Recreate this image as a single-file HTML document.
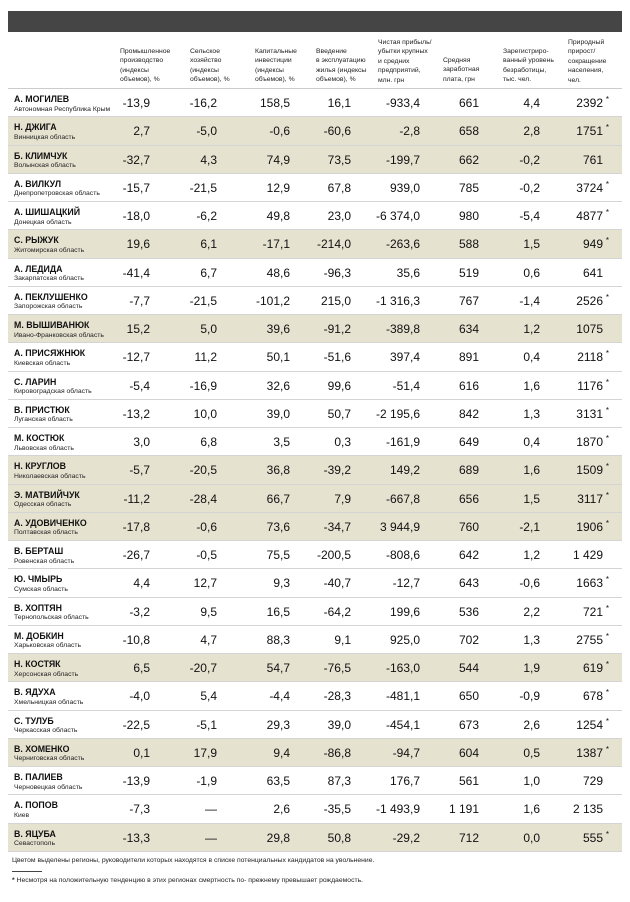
<!DOCTYPE html>
<html><head><meta charset="utf-8"><style>
*{margin:0;padding:0;box-sizing:border-box}
body{width:630px;height:902px;background:#fff;font-family:"Liberation Sans",sans-serif;position:relative;overflow:hidden;color:#111}
.bar{position:absolute;left:8px;top:11px;width:614px;height:21px;background:#454545}
.h{position:absolute;top:40px;font-size:6.8px;line-height:9.4px;color:#222}
.rows{position:absolute;left:8px;top:88px;width:614px;border-top:1px solid #ccc}
.r{position:relative;height:28.25px;border-bottom:1px solid #d4d4d4}
.r.y{background:#e6e2d0}
.n{position:absolute;left:6px;top:6px;font-size:8.8px;font-weight:bold;line-height:9.5px}
.n small{display:block;font-weight:normal;font-size:6.8px;line-height:9px;color:#222}
.v{position:absolute;top:7px;font-size:12px;line-height:14px;text-align:right;width:64px}
.v sup{position:absolute;right:-6px;top:-3px;font-size:8px}
.f1{position:absolute;left:12px;top:857px;font-size:6.8px;color:#222}
.ln{position:absolute;left:12px;top:871px;width:30px;border-top:1px solid #444}
.f2{position:absolute;left:12px;top:877px;font-size:6.8px;color:#222}
</style></head><body>
<div class="bar"></div>
<div class="h" style="left:120px;top:47px">Промышленное<br>производство<br>(индексы<br>объемов), %</div>
<div class="h" style="left:190px;top:47px">Сельское<br>хозяйство<br>(индексы<br>объемов), %</div>
<div class="h" style="left:255px;top:47px">Капитальные<br>инвестиции<br>(индексы<br>объемов), %</div>
<div class="h" style="left:316px;top:47px">Введение<br>в эксплуатацию<br>жилья (индексы<br>объемов), %</div>
<div class="h" style="left:378px;top:38px">Чистая прибыль/<br>убытки крупных<br>и средних<br>предприятий,<br>млн. грн</div>
<div class="h" style="left:443px;top:56px">Средняя<br>заработная<br>плата, грн</div>
<div class="h" style="left:503px;top:47px">Зарегистриро-<br>ванный уровень<br>безработицы,<br>тыс. чел.</div>
<div class="h" style="left:568px;top:38px">Природный<br>прирост/<br>сокращение<br>населения,<br>чел.</div>
<div class="rows">
<div class="r"><div class="n">А. МОГИЛЕВ<small>Автономная Республика Крым</small></div><div class="v" style="left:78px">-13,9</div><div class="v" style="left:145px">-16,2</div><div class="v" style="left:218px">158,5</div><div class="v" style="left:279px">16,1</div><div class="v" style="left:348px">-933,4</div><div class="v" style="left:407px">661</div><div class="v" style="left:468px">4,4</div><div class="v" style="left:531px">2392<sup>*</sup></div></div>
<div class="r y"><div class="n">Н. ДЖИГА<small>Винницкая область</small></div><div class="v" style="left:78px">2,7</div><div class="v" style="left:145px">-5,0</div><div class="v" style="left:218px">-0,6</div><div class="v" style="left:279px">-60,6</div><div class="v" style="left:348px">-2,8</div><div class="v" style="left:407px">658</div><div class="v" style="left:468px">2,8</div><div class="v" style="left:531px">1751<sup>*</sup></div></div>
<div class="r y"><div class="n">Б. КЛИМЧУК<small>Волынская область</small></div><div class="v" style="left:78px">-32,7</div><div class="v" style="left:145px">4,3</div><div class="v" style="left:218px">74,9</div><div class="v" style="left:279px">73,5</div><div class="v" style="left:348px">-199,7</div><div class="v" style="left:407px">662</div><div class="v" style="left:468px">-0,2</div><div class="v" style="left:531px">761</div></div>
<div class="r"><div class="n">А. ВИЛКУЛ<small>Днепропетровская область</small></div><div class="v" style="left:78px">-15,7</div><div class="v" style="left:145px">-21,5</div><div class="v" style="left:218px">12,9</div><div class="v" style="left:279px">67,8</div><div class="v" style="left:348px">939,0</div><div class="v" style="left:407px">785</div><div class="v" style="left:468px">-0,2</div><div class="v" style="left:531px">3724<sup>*</sup></div></div>
<div class="r"><div class="n">А. ШИШАЦКИЙ<small>Донецкая область</small></div><div class="v" style="left:78px">-18,0</div><div class="v" style="left:145px">-6,2</div><div class="v" style="left:218px">49,8</div><div class="v" style="left:279px">23,0</div><div class="v" style="left:348px">-6 374,0</div><div class="v" style="left:407px">980</div><div class="v" style="left:468px">-5,4</div><div class="v" style="left:531px">4877<sup>*</sup></div></div>
<div class="r y"><div class="n">С. РЫЖУК<small>Житомирская область</small></div><div class="v" style="left:78px">19,6</div><div class="v" style="left:145px">6,1</div><div class="v" style="left:218px">-17,1</div><div class="v" style="left:279px">-214,0</div><div class="v" style="left:348px">-263,6</div><div class="v" style="left:407px">588</div><div class="v" style="left:468px">1,5</div><div class="v" style="left:531px">949<sup>*</sup></div></div>
<div class="r"><div class="n">А. ЛЕДИДА<small>Закарпатская область</small></div><div class="v" style="left:78px">-41,4</div><div class="v" style="left:145px">6,7</div><div class="v" style="left:218px">48,6</div><div class="v" style="left:279px">-96,3</div><div class="v" style="left:348px">35,6</div><div class="v" style="left:407px">519</div><div class="v" style="left:468px">0,6</div><div class="v" style="left:531px">641</div></div>
<div class="r"><div class="n">А. ПЕКЛУШЕНКО<small>Запорожская область</small></div><div class="v" style="left:78px">-7,7</div><div class="v" style="left:145px">-21,5</div><div class="v" style="left:218px">-101,2</div><div class="v" style="left:279px">215,0</div><div class="v" style="left:348px">-1 316,3</div><div class="v" style="left:407px">767</div><div class="v" style="left:468px">-1,4</div><div class="v" style="left:531px">2526<sup>*</sup></div></div>
<div class="r y"><div class="n">М. ВЫШИВАНЮК<small>Ивано-Франковская область</small></div><div class="v" style="left:78px">15,2</div><div class="v" style="left:145px">5,0</div><div class="v" style="left:218px">39,6</div><div class="v" style="left:279px">-91,2</div><div class="v" style="left:348px">-389,8</div><div class="v" style="left:407px">634</div><div class="v" style="left:468px">1,2</div><div class="v" style="left:531px">1075</div></div>
<div class="r"><div class="n">А. ПРИСЯЖНЮК<small>Киевская область</small></div><div class="v" style="left:78px">-12,7</div><div class="v" style="left:145px">11,2</div><div class="v" style="left:218px">50,1</div><div class="v" style="left:279px">-51,6</div><div class="v" style="left:348px">397,4</div><div class="v" style="left:407px">891</div><div class="v" style="left:468px">0,4</div><div class="v" style="left:531px">2118<sup>*</sup></div></div>
<div class="r"><div class="n">С. ЛАРИН<small>Кировоградская область</small></div><div class="v" style="left:78px">-5,4</div><div class="v" style="left:145px">-16,9</div><div class="v" style="left:218px">32,6</div><div class="v" style="left:279px">99,6</div><div class="v" style="left:348px">-51,4</div><div class="v" style="left:407px">616</div><div class="v" style="left:468px">1,6</div><div class="v" style="left:531px">1176<sup>*</sup></div></div>
<div class="r"><div class="n">В. ПРИСТЮК<small>Луганская область</small></div><div class="v" style="left:78px">-13,2</div><div class="v" style="left:145px">10,0</div><div class="v" style="left:218px">39,0</div><div class="v" style="left:279px">50,7</div><div class="v" style="left:348px">-2 195,6</div><div class="v" style="left:407px">842</div><div class="v" style="left:468px">1,3</div><div class="v" style="left:531px">3131<sup>*</sup></div></div>
<div class="r"><div class="n">М. КОСТЮК<small>Львовская область</small></div><div class="v" style="left:78px">3,0</div><div class="v" style="left:145px">6,8</div><div class="v" style="left:218px">3,5</div><div class="v" style="left:279px">0,3</div><div class="v" style="left:348px">-161,9</div><div class="v" style="left:407px">649</div><div class="v" style="left:468px">0,4</div><div class="v" style="left:531px">1870<sup>*</sup></div></div>
<div class="r y"><div class="n">Н. КРУГЛОВ<small>Николаевская область</small></div><div class="v" style="left:78px">-5,7</div><div class="v" style="left:145px">-20,5</div><div class="v" style="left:218px">36,8</div><div class="v" style="left:279px">-39,2</div><div class="v" style="left:348px">149,2</div><div class="v" style="left:407px">689</div><div class="v" style="left:468px">1,6</div><div class="v" style="left:531px">1509<sup>*</sup></div></div>
<div class="r y"><div class="n">Э. МАТВИЙЧУК<small>Одесская область</small></div><div class="v" style="left:78px">-11,2</div><div class="v" style="left:145px">-28,4</div><div class="v" style="left:218px">66,7</div><div class="v" style="left:279px">7,9</div><div class="v" style="left:348px">-667,8</div><div class="v" style="left:407px">656</div><div class="v" style="left:468px">1,5</div><div class="v" style="left:531px">3117<sup>*</sup></div></div>
<div class="r y"><div class="n">А. УДОВИЧЕНКО<small>Полтавская область</small></div><div class="v" style="left:78px">-17,8</div><div class="v" style="left:145px">-0,6</div><div class="v" style="left:218px">73,6</div><div class="v" style="left:279px">-34,7</div><div class="v" style="left:348px">3 944,9</div><div class="v" style="left:407px">760</div><div class="v" style="left:468px">-2,1</div><div class="v" style="left:531px">1906<sup>*</sup></div></div>
<div class="r"><div class="n">В. БЕРТАШ<small>Ровенская область</small></div><div class="v" style="left:78px">-26,7</div><div class="v" style="left:145px">-0,5</div><div class="v" style="left:218px">75,5</div><div class="v" style="left:279px">-200,5</div><div class="v" style="left:348px">-808,6</div><div class="v" style="left:407px">642</div><div class="v" style="left:468px">1,2</div><div class="v" style="left:531px">1 429</div></div>
<div class="r"><div class="n">Ю. ЧМЫРЬ<small>Сумская область</small></div><div class="v" style="left:78px">4,4</div><div class="v" style="left:145px">12,7</div><div class="v" style="left:218px">9,3</div><div class="v" style="left:279px">-40,7</div><div class="v" style="left:348px">-12,7</div><div class="v" style="left:407px">643</div><div class="v" style="left:468px">-0,6</div><div class="v" style="left:531px">1663<sup>*</sup></div></div>
<div class="r"><div class="n">В. ХОПТЯН<small>Тернопольская область</small></div><div class="v" style="left:78px">-3,2</div><div class="v" style="left:145px">9,5</div><div class="v" style="left:218px">16,5</div><div class="v" style="left:279px">-64,2</div><div class="v" style="left:348px">199,6</div><div class="v" style="left:407px">536</div><div class="v" style="left:468px">2,2</div><div class="v" style="left:531px">721<sup>*</sup></div></div>
<div class="r"><div class="n">М. ДОБКИН<small>Харьковская область</small></div><div class="v" style="left:78px">-10,8</div><div class="v" style="left:145px">4,7</div><div class="v" style="left:218px">88,3</div><div class="v" style="left:279px">9,1</div><div class="v" style="left:348px">925,0</div><div class="v" style="left:407px">702</div><div class="v" style="left:468px">1,3</div><div class="v" style="left:531px">2755<sup>*</sup></div></div>
<div class="r y"><div class="n">Н. КОСТЯК<small>Херсонская область</small></div><div class="v" style="left:78px">6,5</div><div class="v" style="left:145px">-20,7</div><div class="v" style="left:218px">54,7</div><div class="v" style="left:279px">-76,5</div><div class="v" style="left:348px">-163,0</div><div class="v" style="left:407px">544</div><div class="v" style="left:468px">1,9</div><div class="v" style="left:531px">619<sup>*</sup></div></div>
<div class="r"><div class="n">В. ЯДУХА<small>Хмельницкая область</small></div><div class="v" style="left:78px">-4,0</div><div class="v" style="left:145px">5,4</div><div class="v" style="left:218px">-4,4</div><div class="v" style="left:279px">-28,3</div><div class="v" style="left:348px">-481,1</div><div class="v" style="left:407px">650</div><div class="v" style="left:468px">-0,9</div><div class="v" style="left:531px">678<sup>*</sup></div></div>
<div class="r"><div class="n">С. ТУЛУБ<small>Черкасская область</small></div><div class="v" style="left:78px">-22,5</div><div class="v" style="left:145px">-5,1</div><div class="v" style="left:218px">29,3</div><div class="v" style="left:279px">39,0</div><div class="v" style="left:348px">-454,1</div><div class="v" style="left:407px">673</div><div class="v" style="left:468px">2,6</div><div class="v" style="left:531px">1254<sup>*</sup></div></div>
<div class="r y"><div class="n">В. ХОМЕНКО<small>Черниговская область</small></div><div class="v" style="left:78px">0,1</div><div class="v" style="left:145px">17,9</div><div class="v" style="left:218px">9,4</div><div class="v" style="left:279px">-86,8</div><div class="v" style="left:348px">-94,7</div><div class="v" style="left:407px">604</div><div class="v" style="left:468px">0,5</div><div class="v" style="left:531px">1387<sup>*</sup></div></div>
<div class="r"><div class="n">В. ПАЛИЕВ<small>Черновецкая область</small></div><div class="v" style="left:78px">-13,9</div><div class="v" style="left:145px">-1,9</div><div class="v" style="left:218px">63,5</div><div class="v" style="left:279px">87,3</div><div class="v" style="left:348px">176,7</div><div class="v" style="left:407px">561</div><div class="v" style="left:468px">1,0</div><div class="v" style="left:531px">729</div></div>
<div class="r"><div class="n">А. ПОПОВ<small>Киев</small></div><div class="v" style="left:78px">-7,3</div><div class="v" style="left:145px">—</div><div class="v" style="left:218px">2,6</div><div class="v" style="left:279px">-35,5</div><div class="v" style="left:348px">-1 493,9</div><div class="v" style="left:407px">1 191</div><div class="v" style="left:468px">1,6</div><div class="v" style="left:531px">2 135</div></div>
<div class="r y"><div class="n">В. ЯЦУБА<small>Севастополь</small></div><div class="v" style="left:78px">-13,3</div><div class="v" style="left:145px">—</div><div class="v" style="left:218px">29,8</div><div class="v" style="left:279px">50,8</div><div class="v" style="left:348px">-29,2</div><div class="v" style="left:407px">712</div><div class="v" style="left:468px">0,0</div><div class="v" style="left:531px">555<sup>*</sup></div></div>
</div>
<div class="f1">Цветом выделены регионы, руководители которых находятся в списке потенциальных кандидатов на увольнение.</div>
<div class="ln"></div>
<div class="f2"><b>*</b> Несмотря на положительную тенденцию в этих регионах смертность по- прежнему превышает рождаемость.</div>
</body></html>
